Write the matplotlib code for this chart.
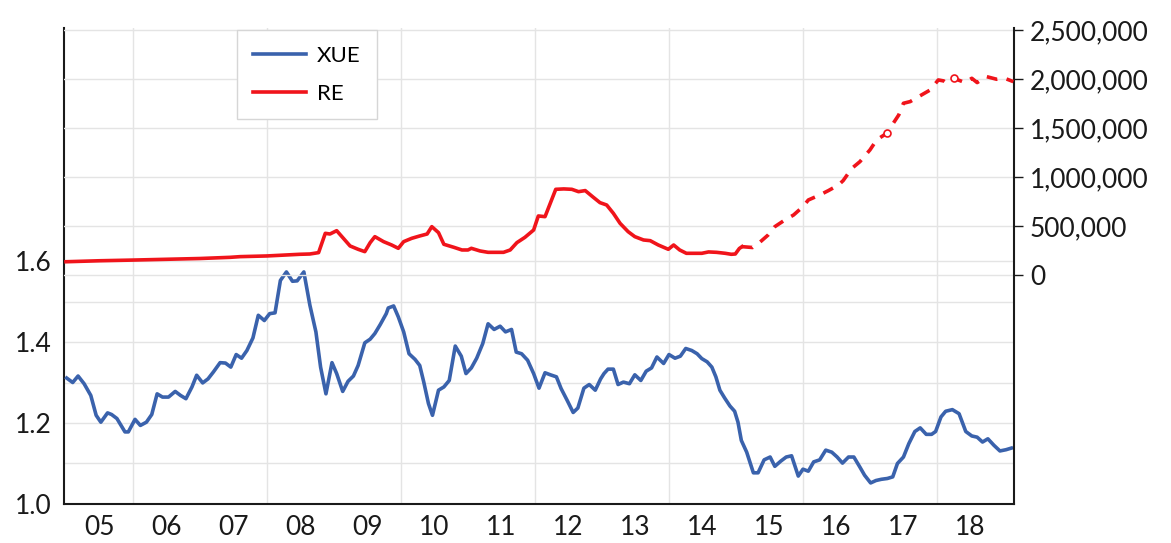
import matplotlib
matplotlib.use('Agg')
import matplotlib.pyplot as plt
from matplotlib.ticker import FixedLocator, FuncFormatter

plt.rcParams['font.family'] = ['Lato', 'DejaVu Sans']

BLUE = '#3A62AC'
RED = '#F0141B'
GRID = '#E4E4E4'

# XUE, decimal years
xue_t = [2005.01, 2005.10, 2005.18, 2005.27, 2005.37, 2005.45, 2005.52, 2005.62, 2005.68, 2005.76,
         2005.88, 2005.93, 2006.03, 2006.11, 2006.20, 2006.28, 2006.36, 2006.44, 2006.53, 2006.63,
         2006.71, 2006.79, 2006.88, 2006.95, 2007.04, 2007.12, 2007.20, 2007.30, 2007.38, 2007.46,
         2007.54, 2007.62, 2007.70, 2007.79, 2007.87, 2007.96, 2008.04, 2008.12, 2008.20, 2008.29,
         2008.38, 2008.45, 2008.55, 2008.64, 2008.73, 2008.80, 2008.88, 2008.97, 2009.04, 2009.13,
         2009.21, 2009.29, 2009.36, 2009.46, 2009.54, 2009.61, 2009.69, 2009.78, 2009.81, 2009.89,
         2009.96, 2010.04, 2010.12, 2010.21, 2010.28, 2010.34, 2010.41, 2010.47, 2010.56, 2010.64,
         2010.72, 2010.81, 2010.90, 2010.97, 2011.05, 2011.13, 2011.22, 2011.30, 2011.39, 2011.48,
         2011.56, 2011.65, 2011.72, 2011.80, 2011.89, 2011.98, 2012.06, 2012.15, 2012.23, 2012.32,
         2012.39, 2012.48, 2012.57, 2012.64, 2012.73, 2012.81, 2012.90, 2012.98, 2013.03, 2013.09,
         2013.17, 2013.24, 2013.32, 2013.41, 2013.49, 2013.58, 2013.66, 2013.74, 2013.82, 2013.92,
         2014.00, 2014.09, 2014.17, 2014.25, 2014.34, 2014.42, 2014.49, 2014.57, 2014.64, 2014.70,
         2014.76, 2014.83, 2014.91, 2014.98, 2015.03, 2015.08, 2015.16, 2015.26, 2015.33, 2015.42,
         2015.51, 2015.58, 2015.67, 2015.75, 2015.83, 2015.93, 2016.00, 2016.08, 2016.16, 2016.25,
         2016.34, 2016.43, 2016.51, 2016.59, 2016.68, 2016.76, 2016.85, 2016.92, 2017.01, 2017.09,
         2017.17, 2017.26, 2017.34, 2017.41, 2017.50, 2017.58, 2017.67, 2017.75, 2017.84, 2017.92,
         2017.98, 2018.06, 2018.13, 2018.23, 2018.33, 2018.43, 2018.52, 2018.60, 2018.68, 2018.76,
         2018.85, 2018.94, 2019.03, 2019.11]
xue = [1.311, 1.300, 1.316, 1.297, 1.268, 1.219, 1.202, 1.225, 1.221, 1.211,
       1.178, 1.178, 1.209, 1.194, 1.202, 1.221, 1.272, 1.264, 1.264, 1.278,
       1.268, 1.260, 1.289, 1.318, 1.299, 1.309, 1.326, 1.349, 1.348, 1.338,
       1.369, 1.360, 1.379, 1.410, 1.466, 1.453, 1.470, 1.472, 1.552, 1.573,
       1.550, 1.551, 1.573, 1.491, 1.425, 1.338, 1.272, 1.349, 1.322, 1.278,
       1.303, 1.316, 1.342, 1.398, 1.407, 1.421, 1.443, 1.470, 1.484, 1.489,
       1.462, 1.425, 1.371, 1.357, 1.342, 1.301, 1.248, 1.219, 1.281, 1.289,
       1.305, 1.390, 1.365, 1.322, 1.336, 1.360, 1.396, 1.445, 1.431, 1.439,
       1.425, 1.431, 1.375, 1.371, 1.355, 1.322, 1.286, 1.324, 1.319, 1.314,
       1.285, 1.256, 1.226, 1.237, 1.286, 1.295, 1.281, 1.309, 1.322, 1.333,
       1.333, 1.295, 1.301, 1.297, 1.319, 1.305, 1.328, 1.336, 1.363, 1.347,
       1.369, 1.360, 1.365, 1.384, 1.379, 1.371, 1.359, 1.351, 1.338, 1.314,
       1.281, 1.262, 1.242, 1.229, 1.202, 1.157, 1.128, 1.077, 1.077, 1.109,
       1.116, 1.093, 1.106, 1.116, 1.119, 1.069, 1.086, 1.081, 1.104, 1.109,
       1.133, 1.128, 1.116, 1.101, 1.116, 1.116, 1.091, 1.071, 1.052, 1.058,
       1.061, 1.063, 1.067, 1.100, 1.116, 1.149, 1.179, 1.188, 1.172, 1.172,
       1.179, 1.215, 1.229, 1.233, 1.223, 1.179, 1.168, 1.165, 1.153, 1.161,
       1.145, 1.131, 1.134, 1.138]

# RE actual (solid)
re_t = [2005.0, 2005.5, 2006.0, 2006.5, 2007.0, 2007.45, 2007.6, 2008.0, 2008.49, 2008.64,
        2008.77, 2008.87, 2008.94, 2009.04, 2009.14, 2009.24, 2009.36, 2009.46, 2009.54, 2009.61,
        2009.74, 2009.86, 2009.96, 2010.04, 2010.16, 2010.28, 2010.39, 2010.46, 2010.56, 2010.64,
        2010.79, 2010.91, 2011.00, 2011.05, 2011.18, 2011.30, 2011.53, 2011.63, 2011.73, 2011.85,
        2011.98, 2012.05, 2012.15, 2012.31, 2012.43, 2012.55, 2012.65, 2012.75, 2012.87, 2012.97,
        2013.07, 2013.17, 2013.27, 2013.39, 2013.49, 2013.62, 2013.72, 2013.84, 2013.99, 2014.07,
        2014.16, 2014.26, 2014.36, 2014.49, 2014.59, 2014.71, 2014.84, 2014.93, 2014.99, 2015.05,
        2015.09]
re_vals = [135e3, 145e3, 152e3, 160e3, 168e3, 180e3, 187e3, 194e3, 211e3, 214e3,
           228e3, 425e3, 418e3, 452e3, 374e3, 296e3, 262e3, 238e3, 330e3, 391e3,
           340e3, 306e3, 272e3, 340e3, 374e3, 398e3, 418e3, 493e3, 432e3, 313e3,
           282e3, 255e3, 255e3, 272e3, 245e3, 231e3, 231e3, 255e3, 330e3, 384e3,
           459e3, 602e3, 595e3, 874e3, 878e3, 874e3, 850e3, 861e3, 793e3, 738e3,
           714e3, 629e3, 527e3, 442e3, 391e3, 357e3, 350e3, 306e3, 262e3, 306e3,
           255e3, 221e3, 221e3, 221e3, 235e3, 231e3, 221e3, 211e3, 214e3, 270e3,
           289e3]

# RE projected (dashed)
re_fc_t = [2015.09, 2015.25, 2015.35, 2015.48, 2015.58, 2015.73, 2015.86, 2016.00, 2016.08, 2016.25,
           2016.38, 2016.53, 2016.60, 2016.73, 2016.85, 2017.00, 2017.10, 2017.25, 2017.43, 2017.50,
           2017.60, 2017.77, 2017.90, 2018.02, 2018.10, 2018.15, 2018.25, 2018.42, 2018.52, 2018.60,
           2018.74, 2018.89, 2019.01, 2019.14]
re_fc = [289e3, 280e3, 330e3, 408e3, 493e3, 561e3, 612e3, 697e3, 765e3, 816e3,
         861e3, 918e3, 963e3, 1088e3, 1156e3, 1276e3, 1378e3, 1446e3, 1633e3, 1752e3,
         1769e3, 1837e3, 1888e3, 1990e3, 1980e3, 1956e3, 2007e3, 1963e3, 2007e3, 1963e3,
         2024e3, 1997e3, 2007e3, 1973e3]

# open circle markers on the projection
re_pt_t = [2017.25, 2018.25]
re_pt = [1446e3, 2007e3]

years = list(range(2005, 2019))
year_labels = ['05', '06', '07', '08', '09', '10', '11', '12', '13', '14', '15', '16', '17', '18']
left_ticks = [1.0, 1.2, 1.4, 1.6]
left_minor = [1.1, 1.3, 1.5]
right_ticks = [0, 500000, 1000000, 1500000, 2000000, 2500000]

W, H = 1171, 543
fig = plt.figure(figsize=(W / 100, H / 100), dpi=100)
ax = fig.add_axes([64 / W, 39 / H, 950 / W, 476 / H])
ax2 = ax.twinx()

ax.plot(xue_t, xue, color=BLUE, lw=2.6, solid_joinstyle='round', zorder=3)
l_re, = ax2.plot(re_t, re_vals, color=RED, lw=2.6, solid_joinstyle='round', zorder=3)
ax2.plot(re_fc_t, re_fc, color=RED, lw=2.6, dashes=(3.0, 2.6), zorder=3)
ax2.plot(re_pt_t, re_pt, ls='none', marker='o', ms=5, mfc='white', mec=RED, mew=1.2, zorder=4)

ax.set_xlim(2004.97, 2019.15)
ax.set_ylim(1.0, 1.0 + 476 / 405)
ax2.set_ylim(-2.337e6, 2.520e6)

# x: labels mid-year, grid every two years
ax.xaxis.set_major_locator(FixedLocator([y + 0.5 for y in years]))
ax.set_xticklabels(year_labels)
ax.xaxis.set_minor_locator(FixedLocator(years[1::2]))
ax.yaxis.set_major_locator(FixedLocator(left_ticks))
ax.yaxis.set_minor_locator(FixedLocator(left_minor))
ax.yaxis.set_major_formatter(FuncFormatter(lambda v, p: f'{v:.1f}'))
ax.grid(axis='x', which='minor', color=GRID, lw=1)
ax.grid(axis='y', which='both', color=GRID, lw=1)
ax.set_axisbelow(True)

ax2.yaxis.set_major_locator(FixedLocator(right_ticks))
ax2.yaxis.set_major_formatter(FuncFormatter(lambda v, p: f'{v:,.0f}'))
ax2.grid(axis='y', color=GRID, lw=1)
ax2.set_axisbelow(True)

ax.tick_params(axis='x', which='both', length=0, pad=8, labelsize=19, colors='#1a1a1a')
ax.tick_params(axis='y', which='both', length=0, pad=9, labelsize=19, colors='#1a1a1a')
ax2.tick_params(axis='y', length=6.5, width=1, direction='out', pad=5, labelsize=19,
                colors='#1a1a1a')

for s in ['top', 'right']:
    ax.spines[s].set_visible(False)
for s in ['top', 'left', 'bottom']:
    ax2.spines[s].set_visible(False)
for s in [ax.spines['left'], ax.spines['bottom'], ax2.spines['right']]:
    s.set_linewidth(1.5)
    s.set_color('#1a1a1a')

leg = fig.legend([ax.lines[0], l_re], ['XUE', 'RE'], loc='upper left',
                 bbox_to_anchor=(237 / W, 1 - 30 / H), borderaxespad=0,
                 fancybox=False, edgecolor='#D6D6D6', framealpha=1, fontsize=16,
                 handlelength=2.4, handletextpad=0.5, labelspacing=0.8, borderpad=0.71)
leg.get_frame().set_linewidth(1.0)

fig.savefig('out.png', dpi=100)
